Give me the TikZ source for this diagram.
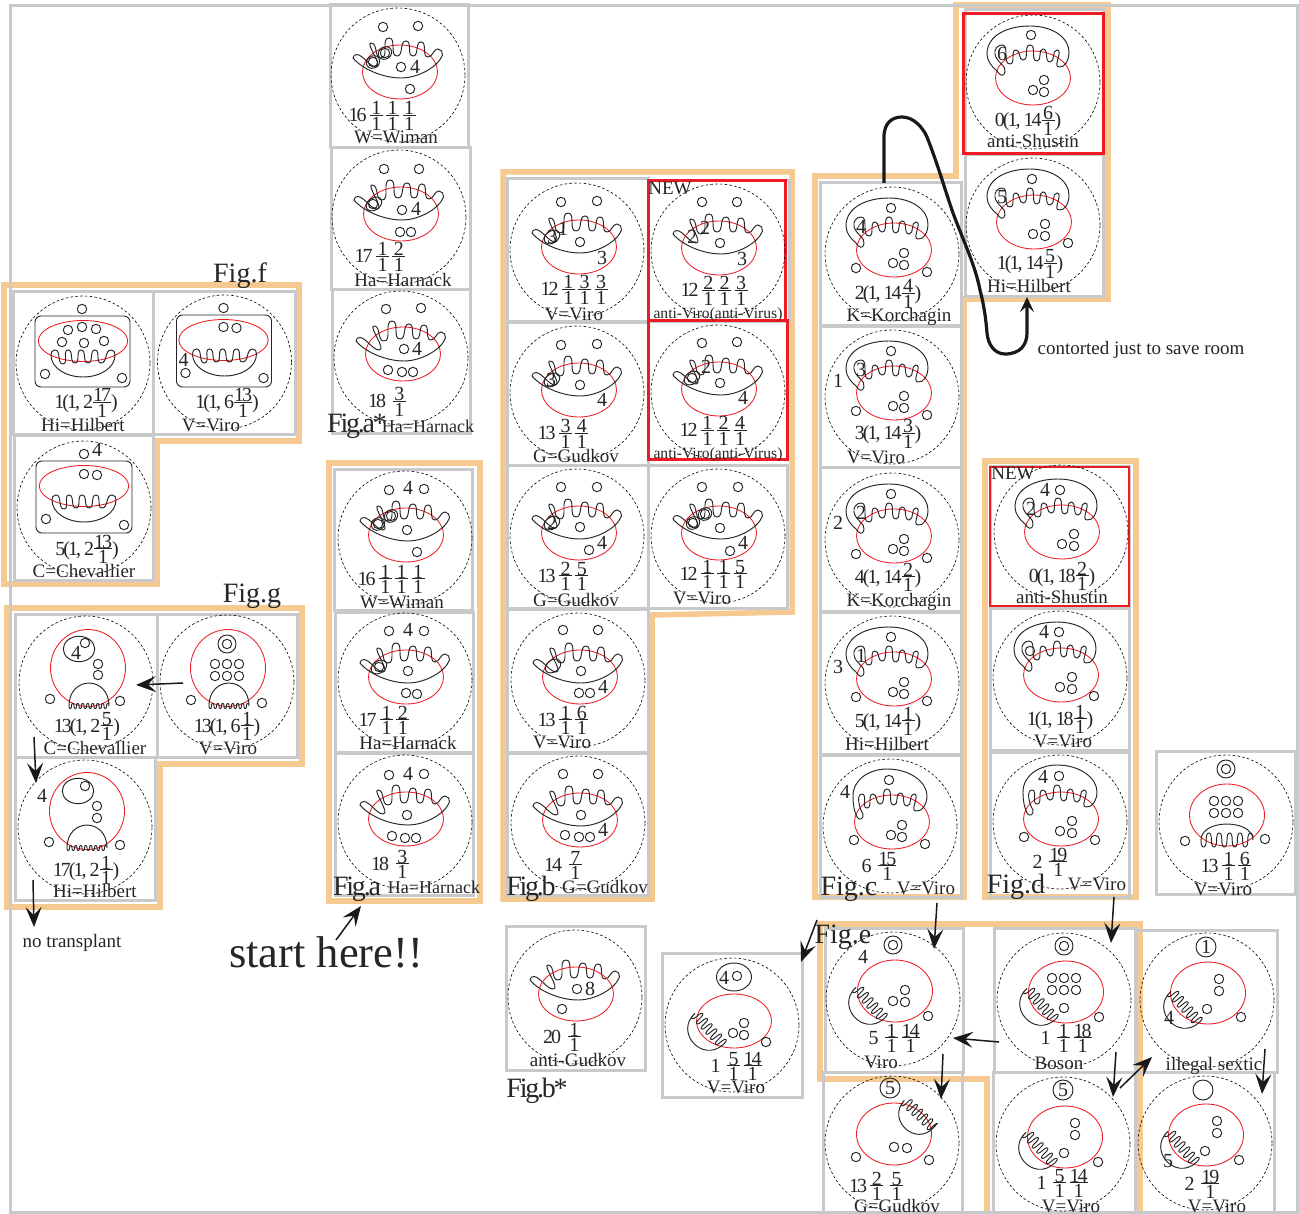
\documentclass[tikz,border=0pt]{standalone}
\usepackage{fontspec}
\setmainfont{Liberation Serif}
\newfontfamily\stretchfont[LetterSpace=-10]{Liberation Serif}
\newfontfamily\tightfont[LetterSpace=-8]{Liberation Serif}
\usetikzlibrary{arrows.meta}
\definecolor{orng}{HTML}{F5C98F}
\definecolor{gry}{HTML}{C8C9CB}
\definecolor{redb}{HTML}{ED1C24}
\newcount\nn
\newdimen\FrW
\newcommand\Fr[2]{\begingroup\setbox0\hbox{#1}\setbox2\hbox{#2}\FrW=.65em \ifdim\wd0>\FrW \FrW=\wd0\fi\ifdim\wd2>\FrW \FrW=\wd2\fi
\hbox to\FrW{\rlap{\hbox to\FrW{\hss\raisebox{.35em}{\box0}\hss}}\rlap{\hbox to\FrW{\hss\raisebox{-.42em}{\box2}\hss}}\rlap{\raisebox{.3em}{\rule{\FrW}{.06em}}}\hss}\endgroup}
\tikzset{
 ln/.style={draw=black!85,line width=.95pt},
 rd/.style={draw=redb,line width=.85pt},
 dsh/.style={draw=black,line width=.6pt,dash pattern=on 2.6pt off 2.2pt},
 orngl/.style={draw=orng,line width=5.5pt,line join=miter},
 pan/.style={draw=gry,line width=3pt},
 rbox/.style={draw=redb,line width=3pt},
 fractxt/.style={font=\stretchfont\fontsize{20}{24}\selectfont,text=black!85,anchor=base,inner sep=0pt},
 nametxt/.style={font=\fontsize{19}{22}\selectfont,text=black!85,anchor=base,inner sep=0pt},
 smalltxt/.style={font=\fontsize{15.6}{18}\selectfont,text=black!85,anchor=base,inner sep=0pt},
 numtxt/.style={font=\fontsize{20}{22}\selectfont,text=black!85,inner sep=0pt},
 figtxt/.style={font=\fontsize{28}{32}\selectfont,text=black!85,anchor=base,inner sep=0pt},
 figtight/.style={font=\tightfont\fontsize{28}{32}\selectfont,text=black!85,anchor=base,inner sep=0pt},
 arw/.style={draw=black!90,line width=1.5pt,-{Stealth[length=20pt,width=16pt,inset=8pt]}},
 zr/.style={out=0,in=180},
 zl/.style={out=180,in=0},
}
\newcommand\Tx[4][nametxt]{\global\advance\nn by 1 \node[#1] (t\the\nn) at (#2,#3) {#4};}
\newcommand\Nm[3]{\global\advance\nn by 1 \node[numtxt] (t\the\nn) at (#1,#2) {#3};}
\newcommand\Sm[1]{\foreach \p in {#1}{\draw[ln] \p circle (4.7pt);}}
\newcommand\Ring[2]{\draw[ln] (#1,#2) circle (9pt);\draw[ln] (#1,#2) circle (4.7pt);}
\newcommand\BigC[2]{\draw[ln] (#1,#2) circle (10pt);}
\newcommand\Rd[2]{\draw[rd] (#1,#2) circle [x radius=37.5pt,y radius=27pt];}
\newcommand\RdT[2]{\draw[rd] (#1,#2) circle [x radius=37.5pt,y radius=31pt];}
\newcommand\RdG[2]{\draw[rd] (#1,#2) circle [x radius=37.5pt,y radius=38.5pt];}
\newcommand\RdW[2]{\draw[rd] (#1,#2) circle [x radius=44.7pt,y radius=20.5pt];}
\newcommand\Ov[2]{\draw[ln] (#1,#2) circle [x radius=8.5pt,y radius=6pt,rotate=35];}
\newcommand\OvD[2]{\draw[ln] (#1,#2) circle [x radius=7pt,y radius=6pt,rotate=35];\draw[ln] (#1,#2) circle (4.7pt);}
\newcommand\CC[3]{\begin{scope}[shift={(#1,#2)}]\draw[dsh] (0,0) circle (67pt);#3\end{scope}}
% comb with fingers and smile
\newcommand\Comb{\draw[ln] (-45,-17) .. controls (-45,-19) and (-43,-21) .. (-41,-20.5) .. controls (-35,-20) and (-28,-8) .. (-22,-8) .. controls (-14,-8) and (-33,-32) .. (-27,-32) to[zr] (-17,-17) to[zr] (-9,-37) to[zr] (-1,-19) to[zr] (8,-34) to[zr] (15,-19) to[zr] (23,-33) to[zr] (30,-18) to[zr] (40,-26) .. controls (43,-26) and (45,-23) .. (44.5,-20) .. controls (40,-8) and (20,3) .. (3,3) .. controls (-15,3) and (-36,-6) .. (-45,-17) -- cycle;}
% lobe with left hook
\newcommand\LobeA{\draw[ln] (26,-15) to[zl] (24,-32) to[zl] (17,-20) to[zl] (10,-33) to[zl] (4,-21) to[zl] (-3,-37) to[zl] (-10,-22) to[zl] (-17,-32) to[zl] (-23,-18) to[zl] (-31,-37) .. controls (-36,-37) and (-39,-32) .. (-38,-28) .. controls (-37,-20) and (-26,-16) .. (-28,-10) .. controls (-29,-5) and (-33,-6) .. (-36,-11) .. controls (-41,-15) and (-46,-21) .. (-46,-28) .. controls (-46,-47) and (-25,-56) .. (-3,-56) .. controls (20,-56) and (36,-44) .. (36,-30) .. controls (36,-22) and (32,-14) .. (26,-15) -- cycle;}
\newcommand\LobeB{\draw[ln] (26,-15) to[zl] (24,-32) to[zl] (17,-20) to[zl] (10,-33) to[zl] (4,-21) to[zl] (-3,-37) to[zl] (-10,-22) to[zl] (-17,-32) to[zl] (-23,-18) to[zl] (-28,-32) .. controls (-34,-32) and (-31,-18) .. (-27,-12) .. controls (-26,-7) and (-31,-5) .. (-33,-9) .. controls (-36,-15) and (-37,-22) .. (-37,-30) .. controls (-37,-47) and (-20,-57) .. (-3,-57) .. controls (20,-57) and (37,-44) .. (37,-30) .. controls (37,-22) and (32,-14) .. (26,-15) -- cycle;}
% U comb of Fig f
\newcommand\UComb{\draw[ln] (-28,-13) to[zr] (-20,1) to[zr] (-15,-13) to[zr] (-8,0) to[zr] (-2,-13) to[zr] (5,0) to[zr] (12,-13) to[zr] (18,0) to[zr] (28,-13) .. controls (31,-13) and (32,-11) .. (32,-8) .. controls (32,5) and (17,14) .. (0,14) .. controls (-17,14) and (-32,5) .. (-32,-8) .. controls (-32,-11) and (-31,-13) .. (-28,-13) -- cycle;}
% #1,#2 middle, #3 rotation, #4 half length, #5 depth, #6 amplitude, #7 period
\newcommand\Hump[7]{\draw[ln,shift={(#1,#2)},rotate=#3] (-#4,0) .. controls (-#4,#5*1.33) and (#4,#5*1.33) .. (#4,0) -- plot[smooth,domain=#4:-#4,samples=120] ({\x-.07*#7*sin((\x+#4)/#7*720)},{#6*sin((\x+#4)/#7*360)}) -- cycle;}
\newcommand\HE{\Hump{-23}{4}{-48}{21}{21}{5.5}{7}}
\begin{document}
\begin{tikzpicture}[x=1pt,y=-1pt]
\useasboundingbox (0,0) rectangle (1299,1214);
\fill[white] (0,0) rectangle (1299,1214);
% orange group outlines
\draw[orngl] (4,285)--(299,285)--(299,441)--(157,441)--(157,584)--(4,584)--cycle;
\draw[orngl] (7,608)--(302,608)--(302,764)--(160,764)--(160,907)--(7,907)--cycle;
\draw[orngl] (329,463)--(480,463)--(480,901)--(329,901)--cycle;
\draw[orngl] (503,172)--(792,172)--(792,612)--(652,615)--(652,899)--(503,899)--cycle;
\draw[orngl] (815,176)--(956,176)--(956,5)--(1108,5)--(1108,299)--(964,299)--(964,897)--(815,897)--cycle;
\draw[orngl] (985,461)--(1136,461)--(1136,897)--(985,897)--cycle;
\draw[orngl] (820,924)--(1140,924)--(1140,1216)--(987,1216)--(987,1079)--(820,1079)--cycle;
% panels
\foreach \a/\b/\c/\d in {13/292/153/435,153/292/295/435,14/436/153/580,15/614/157/757,157/614/297/757,15/757/155/900,
 330/5/468/148,331/148/470/290,332/290/470/434,334/470/472/610,335/612/473/752,335/753/473/895,
 507/179/648/322,648/181/789/322,507/323/648/466,507/466/648/608,648/466/787/608,507/609/648/752,507/753/648/895,506/926/645/1070,662/953/802/1097,
 820/183/961/326,820/327/961/468,820/468/961/611,820/612/961/754,820/755/961/897,965/10/1103/155,965/155/1103/297,
 990/467/1129/606,990/608/1129/750,990/752/1129/897,1156/751/1295/894,
 825/928/963/1072,994/928/1135/1072,1136/930/1277/1072,823/1072/962/1214,993/1072/1135/1214,1135/1072/1274/1214}
 {\draw[pan] (\a,\b) rectangle (\c,\d);}
\draw[pan] (10,6) rectangle (1297,1212);
\draw[rbox] (648,181) rectangle (785,321);
\draw[rbox] (648,321) rectangle (787,460);
\draw[rbox] (963,14) rectangle (1103,154);
\draw[redb,line width=1.4pt] (990,467) rectangle (1129,606);
% Fig f
\CC{83}{363}{\draw[ln,rounded corners=6pt] (-48,-47) rectangle (47,24);\RdW{0}{-22}\UComb\Sm{(-1,-54),(-15,-33),(-1,-36),(13,-34),(-21,-21),(1,-20),(21,-22),(-38,11),(39,15)}}
\CC{224.5}{362}{\draw[ln,rounded corners=6pt] (-48,-47) rectangle (47,25);\RdW{-1}{-22}\UComb\Sm{(-1,-54),(-1,-35),(12,-34),(-39,11),(39,16)}\Nm{-41}{-2}{4}}
\CC{84}{508}{\draw[ln,rounded corners=6pt] (-48,-47) rectangle (48,25);\RdW{0}{-22}\UComb\Sm{(0,-54),(0,-34),(13,-33),(-38,11),(40,17)}\Nm{13}{-58}{4}}
% Fig g
\CC{86}{683}{\RdG{2}{-15}\draw[ln] (-7,-34) circle [x radius=15.7pt,y radius=12.7pt];\Sm{(-1,-40),(12,-19),(12,-8),(-36,16),(34,18)}\Nm{-10}{-30}{4}\Hump{3}{23}{180}{20}{23}{2.5}{5}}
\CC{227}{682}{\RdG{1}{-14}\Ring{0}{-38}\Sm{(-12,-18),(0,-18),(12,-18),(-12,-6),(0,-6),(12,-6),(-36,18),(35,21)}\Hump{2}{24}{180}{20}{23}{2.5}{5}}
\CC{85}{827}{\RdG{2}{-16}\draw[ln] (-7,-36) circle [x radius=15.7pt,y radius=12.7pt];\Sm{(0,-41),(12,-21),(12,-9),(-36,15),(35,18)}\Nm{-43}{-31}{4}\Hump{2}{21}{180}{20}{23}{2.5}{5}}
% Fig a*
\CC{398}{75}{\Rd{2}{-3}\Comb\OvD{-25}{-13}\OvD{-13}{-22}\Sm{(-15,-48),(20,-49),(3,-8),(12,14)}\Nm{17}{-8}{4}}
\CC{399}{217}{\Rd{2}{-3}\Comb\Ov{-25}{-13}\Sm{(-15,-48),(20,-48),(3,-7),(1,15),(12,15),(-26,-13)}\Nm{17}{-8}{4}}
\CC{401}{358}{\Rd{2}{-4}\Comb\Sm{(-15,-49),(20,-50),(3,-9),(-13,12),(1,14),(12,14)}\Nm{16}{-9}{4}}
% Fig a
\CC{405}{538}{\Rd{1}{-3}\Comb\OvD{-27}{-14}\OvD{-14}{-22}\Sm{(-16,-48),(19,-49),(2,-8),(12,14)}\Nm{3}{-50}{4}}
\CC{405}{680}{\Rd{1}{-3}\Comb\Ov{-26}{-13}\Sm{(-16,-49),(19,-49),(3,-9),(1,13),(12,14),(-26,-13)}\Nm{3}{-50}{4}}
\CC{405}{822}{\Rd{1}{-3}\Comb\Sm{(-16,-47),(19,-48),(2,-7),(-13,14),(0,16),(11,16)}\Nm{3}{-48}{4}}
% Fig b
\CC{577}{250}{\Rd{2}{-3}\Comb\Ov{-25}{-13}\Sm{(-16,-48),(20,-49),(3,-8)}\Nm{-25}{-13}{3}\Nm{-14}{-21}{1}\Nm{25}{8}{3}}
\CC{718}{251}{\Rd{1}{-3}\Comb\Sm{(-16,-49),(19,-49),(2,-8)}\Nm{-26}{-14}{2}\Nm{-13}{-23}{2}\Nm{24}{8}{3}}
\CC{577}{393}{\Rd{2}{-3}\Comb\Ov{-25}{-13}\Sm{(-16,-48),(20,-49),(3,-8)}\Nm{-26}{-13}{3}\Nm{25}{7}{4}}
\CC{718}{392}{\Rd{1}{-3}\Comb\Ov{-26}{-14}\Sm{(-16,-49),(19,-50),(2,-9),(-26,-14)}\Nm{-12}{-25}{2}\Nm{25}{6}{4}}
\CC{577}{536}{\Rd{2}{-3}\Comb\Ov{-25}{-13}\Sm{(-16,-49),(20,-49),(3,-9),(12,14)}\Nm{-25}{-13}{2}\Nm{25}{7}{4}}
\CC{718}{536}{\Rd{1}{-3}\Comb\OvD{-25}{-13}\OvD{-13}{-22}\Sm{(-16,-49),(20,-49),(2,-8),(12,15)}\Nm{25}{7}{4}}
\CC{578}{680}{\Rd{2}{-3}\Comb\Ov{-25}{-14}\Sm{(-15,-50),(20,-50),(3,-9),(1,13),(12,13)}\Nm{25}{7}{4}}
\CC{578}{823}{\Rd{2}{-3}\Comb\Sm{(-15,-49),(20,-49),(3,-8),(-13,12),(1,14),(12,14)}\Nm{25}{7}{4}}
\CC{575}{997}{\Comb\Rd{1}{-3}\Sm{(2,-8),(-13,12)}\Nm{15}{-8}{8}}
\CC{732}{1025}{\Rd{2}{-4}\draw[ln] (2,-48) circle [x radius=17.5pt,y radius=14pt];\Sm{(5,-49),(12,-2),(1,8),(12,10),(34,17)}\Nm{-8}{-47}{4}\HE}
% Fig c and neighbours
\CC{1033}{82}{\Rd{0}{-4}\LobeA\Sm{(-2,-47),(11,-2),(0,8),(11,10)}\Nm{-31}{-28}{6}}
\CC{1033}{225}{\Rd{1}{-3}\LobeA\Sm{(-1,-46),(12,-1),(0,9),(12,11),(35,18)}\Nm{-31}{-28}{5}}
\CC{892}{254}{\Rd{2}{-4}\LobeA\Sm{(-1,-46),(12,-1),(1,9),(12,11),(-36,14),(35,18)}\Nm{-31}{-27}{4}}
\CC{892}{397}{\Rd{2}{-4}\LobeA\Sm{(-1,-46),(12,-1),(1,9),(12,11),(-36,14),(35,18)}\Nm{-31}{-27}{3}\Nm{-54}{-16}{1}}
\CC{892}{540}{\Rd{2}{-4}\LobeA\Sm{(-1,-46),(12,-1),(1,9),(12,11),(-36,14),(35,18)}\Nm{-31}{-27}{2}\Nm{-54}{-17}{2}}
\CC{892}{683}{\Rd{2}{-4}\LobeA\Sm{(-1,-46),(12,-1),(1,9),(12,11),(-36,14),(35,18)}\Nm{-31}{-27}{1}\Nm{-54}{-16}{3}}
\CC{890}{826}{\Rd{2}{-4}\LobeB\Sm{(-1,-46),(12,-1),(1,9),(12,11),(-36,14),(35,18)}\Nm{-45}{-34}{4}}
% Fig d
\CC{1061}{532}{\Rd{1}{0}\begin{scope}[shift={(0,3)}]\LobeA\end{scope}\Sm{(-1,-42),(13,2),(1,12),(13,14)}\Nm{-16}{-42}{4}\Nm{-30}{-23}{2}}
\CC{1060}{678}{\Rd{1}{-3}\LobeA\Sm{(-1,-46),(-30,-27),(12,-1),(0,9),(12,11),(34,18)}\Nm{-16}{-46}{4}}
\CC{1060}{822}{\Rd{1}{-3}\LobeB\Sm{(-1,-46),(12,-1),(0,9),(12,11),(-36,15),(35,18)}\Nm{-17}{-45}{4}}
\CC{1226}{822}{\RdT{1}{-7}\Ring{0}{-53}\Sm{(-12,-21),(0,-21),(12,-21),(-12,-9),(0,-9),(12,-9),(-41,19),(39,17)}\Hump{1}{18}{180}{26}{16}{7}{10.4}}
% Fig e
\CC{893}{999}{\RdT{2}{-8}\Ring{0}{-54}\Sm{(12,-9),(0,2),(12,3),(35,17)}\Nm{-30}{-42}{4}\HE}
\CC{1064}{1000}{\RdT{2}{-8}\Ring{0}{-54}\Sm{(-12,-22),(0,-22),(12,-22),(-12,-10),(0,-10),(12,-10),(0,8),(35,17)}\HE}
\CC{1207}{1000}{\RdT{1}{-7}\BigC{-1}{-53}\Sm{(12,-21),(12,-9),(0,9),(34,17)}\Nm{-1}{-53}{1}\Nm{-38}{18}{4}\Hump{-22}{7}{-48}{21}{21}{5.5}{7}}
\CC{892}{1143}{\RdT{2}{-9}\BigC{-2}{-55}\Sm{(2,4),(15,5),(-36,14),(37,17)}\Nm{-2}{-55}{5}\Hump{27}{-29}{-43}{20}{20}{5.5}{7}}
\CC{1063}{1144}{\RdT{2}{-7}\BigC{0}{-54}\Sm{(12,-21),(12,-9),(1,9),(35,18)}\Nm{0}{-54}{5}\HE}
\CC{1205}{1143}{\RdT{1}{-8}\BigC{-2}{-53}\Sm{(12,-22),(12,-10),(0,8),(34,17)}\Nm{-37}{18}{5}\HE}
% texts
\Tx[fractxt]{86}{409}{1(1, 2\Fr{17}{1})}\Tx{83}{432}{Hi=Hilbert}
\Tx[fractxt]{227}{409}{1(1, 6\Fr{13}{1})}\Tx{211}{432}{V=Viro}
\Tx[fractxt]{87}{555}{5(1, 2\Fr{13}{1})}\Tx{84}{577}{C=Chevallier}
\Tx[fractxt]{87}{732}{13(1, 2\Fr{5}{1})}\Tx{95}{754}{C=Chevallier}
\Tx[fractxt]{227}{732}{13(1, 6\Fr{1}{1})}\Tx{228}{754}{V=Viro}
\Tx[fractxt]{86}{876}{17(1, 2\Fr{1}{1})}\Tx{95}{897}{Hi=Hilbert}
\Tx[fractxt]{382}{122}{16\,\Fr{1}{1}\,\Fr{1}{1}\,\Fr{1}{1}}\Tx{396}{144}{W=Wiman}
\Tx[fractxt]{380}{263}{17\,\Fr{1}{1}\,\Fr{2}{1}}\Tx{403}{287}{Ha=Harnack}
\Tx[fractxt]{387}{408}{18\,\,\Fr{3}{1}}\Tx[smalltxt]{428}{433}{\fontsize{18}{20}\selectfont Ha=Harnack}
\Tx[figtight]{357}{433}{Fig.a*}
\Tx[fractxt]{391}{585}{16\,\Fr{1}{1}\,\Fr{1}{1}\,\Fr{1}{1}}\Tx{402}{608}{W=Wiman}
\Tx[fractxt]{384}{726}{17\,\Fr{1}{1}\,\Fr{2}{1}}\Tx{408}{749}{Ha=Harnack}
\Tx[fractxt]{390}{870}{18\,\,\Fr{3}{1}}\Tx[smalltxt]{434}{893}{\fontsize{18}{20}\selectfont Ha=Harnack}
\Tx[figtight]{357}{895}{Fig.a}
\Tx[fractxt]{574}{296}{12\,\Fr{1}{1}\,\Fr{3}{1}\,\Fr{3}{1}}\Tx{574}{321}{V=Viro}
\Tx[fractxt]{714}{297}{12\,\Fr{2}{1}\,\Fr{2}{1}\,\Fr{3}{1}}\Tx[smalltxt]{718}{319}{anti-Viro(anti-Virus)}
\Tx[fractxt]{563}{440}{13\,\Fr{3}{1}\,\Fr{4}{1}}\Tx{576}{463}{G=Gudkov}
\Tx[fractxt]{713}{437}{12\,\Fr{1}{1}\,\Fr{2}{1}\,\Fr{4}{1}}\Tx[smalltxt]{718}{458}{anti-Viro(anti-Virus)}
\Tx[fractxt]{563}{582}{13\,\Fr{2}{1}\,\Fr{5}{1}}\Tx{576}{606}{G=Gudkov}
\Tx[fractxt]{713}{580}{12\,\Fr{1}{1}\,\Fr{1}{1}\,\Fr{5}{1}}\Tx{702}{604}{V=Viro}
\Tx[fractxt]{563}{726}{13\,\Fr{1}{1}\,\Fr{6}{1}}\Tx{562}{748}{V=Viro}
\Tx[fractxt]{563}{871}{14\,\,\Fr{7}{1}}\Tx{605}{893}{G=Gudkov}
\Tx[figtight]{531}{895}{Fig.b}
\Tx[fractxt]{562}{1043}{20\,\,\Fr{1}{1}}\Tx{578}{1066}{anti-Gudkov}
\Tx[figtight]{537}{1097}{Fig.b*}
\Tx[fractxt]{736}{1072}{1\,\,\Fr{5}{1}\,\Fr{14}{1}}\Tx{736}{1093}{V=Viro}
\Tx[fractxt]{888}{300}{2(1, 14\Fr{4}{1})}\Tx{899}{322}{K=Korchagin}
\Tx[fractxt]{888}{440}{3(1, 14\Fr{3}{1})}\Tx{876}{464}{V=Viro}
\Tx[fractxt]{888}{583}{4(1, 14\Fr{2}{1})}\Tx{899}{606}{K=Korchagin}
\Tx[fractxt]{888}{727}{5(1, 14\Fr{1}{1})}\Tx{887}{750}{Hi=Hilbert}
\Tx[fractxt]{879}{872}{6\,\,\Fr{15}{1}}\Tx{926}{894}{V=Viro}
\Tx[figtxt]{849}{895}{Fig.c}
\Tx[fractxt]{1028}{127}{0(1, 14\Fr{6}{1})}\Tx{1033}{148}{anti-Shustin}
\Tx[fractxt]{1030}{270}{1(1, 14\Fr{5}{1})}\Tx{1029}{293}{Hi=Hilbert}
\Tx[fractxt]{1062}{582}{0(1, 18\Fr{2}{1})}\Tx{1062}{603}{anti-Shustin}
\Tx[fractxt]{1060}{725}{1(1, 18\Fr{1}{1})}\Tx{1063}{747}{V=Viro}
\Tx[fractxt]{1050}{868}{2\,\,\Fr{19}{1}}\Tx{1097}{890}{V=Viro}
\Tx[figtxt]{1016}{893}{Fig.d}
\Tx[fractxt]{1226}{872}{13\,\Fr{1}{1}\,\Fr{6}{1}}\Tx{1223}{895}{V=Viro}
\Tx[fractxt]{894}{1044}{5\,\,\Fr{1}{1}\,\Fr{14}{1}}\Tx{881}{1068}{Viro}
\Tx[fractxt]{1066}{1044}{1\,\,\Fr{1}{1}\,\Fr{18}{1}}\Tx{1059}{1069}{Boson}
\Tx{1214}{1070}{illegal sextic}
\Tx[fractxt]{876}{1192}{13\,\Fr{2}{1}\,\,\Fr{5}{1}}\Tx{897}{1212}{G=Gudkov}
\Tx[fractxt]{1062}{1189}{1\,\,\Fr{5}{1}\,\Fr{14}{1}}\Tx{1071}{1212}{V=Viro}
\Tx[fractxt]{1202}{1190}{2\,\,\Fr{19}{1}}\Tx{1217}{1212}{V=Viro}
\Tx[figtxt]{843}{943}{Fig.e}
\Tx[figtxt]{240}{283}{Fig.f}
\Tx[figtxt]{252}{602}{Fig.g}
\Tx{670}{195}{NEW}
\Tx{1013}{479}{NEW}
\Tx[font=\fontsize{44.5}{50}\selectfont,text=black!85,anchor=base,inner sep=0pt]{326}{967}{start here!!}
\Tx{1141}{355}{contorted just to save room}
\Tx{72}{947}{no transplant}
% connector ends
\coordinate (g2s) at (183,683); \coordinate (g1e) at (136,685);
\coordinate (g1s) at (34,737); \coordinate (g3e) at (36,783);
\coordinate (g3s) at (33,880); \coordinate (ntr) at (34,927);
\coordinate (sts) at (336,940); \coordinate (ste) at (361,906);
\coordinate (es) at (817,920); \coordinate (lone) at (801,962);
\coordinate (cs) at (937,903); \coordinate (e1t) at (934,949);
\coordinate (ds) at (1114,897); \coordinate (e2t) at (1111,943);
\coordinate (e2s) at (999,1042); \coordinate (e1r) at (953,1038);
\coordinate (e1s) at (943,1054); \coordinate (e4t) at (941,1099);
\coordinate (e2b) at (1116,1052); \coordinate (e5t) at (1113,1097);
\coordinate (e5s) at (1120,1088); \coordinate (e3l) at (1152,1057);
\coordinate (e3s) at (1265,1049); \coordinate (e6t) at (1262,1094);
\coordinate (cts) at (884,183); \coordinate (cte) at (1027,297);
\draw[arw] (g2s)--(g1e);
\draw[arw] (g1s)--(g3e);
\draw[arw] (g3s)--(ntr);
\draw[arw] (sts)--(ste);
\draw[arw] (es)--(lone);
\draw[arw] (cs)--(e1t);
\draw[arw] (ds)--(e2t);
\draw[arw] (e2s)--(e1r);
\draw[arw] (e1s)--(e4t);
\draw[arw] (e2b)--(e5t);
\draw[arw] (e5s)--(e3l);
\draw[arw] (e3s)--(e6t);
\draw[draw=black!90,line width=3.2pt,-{Stealth[length=15pt,width=14pt,inset=6pt]}] (cts) -- (884,137) .. controls (884,122) and (893,117) .. (902,117) .. controls (914,117) and (923,128) .. (927,137) .. controls (938,165) and (945,190) .. (953,213) .. controls (965,245) and (975,265) .. (980,290) .. controls (984,305) and (986,320) .. (987,333) .. controls (988,345) and (995,354) .. (1005,354) .. controls (1020,354) and (1027,345) .. (1027,333) -- (cte);
\end{tikzpicture}
\end{document}
